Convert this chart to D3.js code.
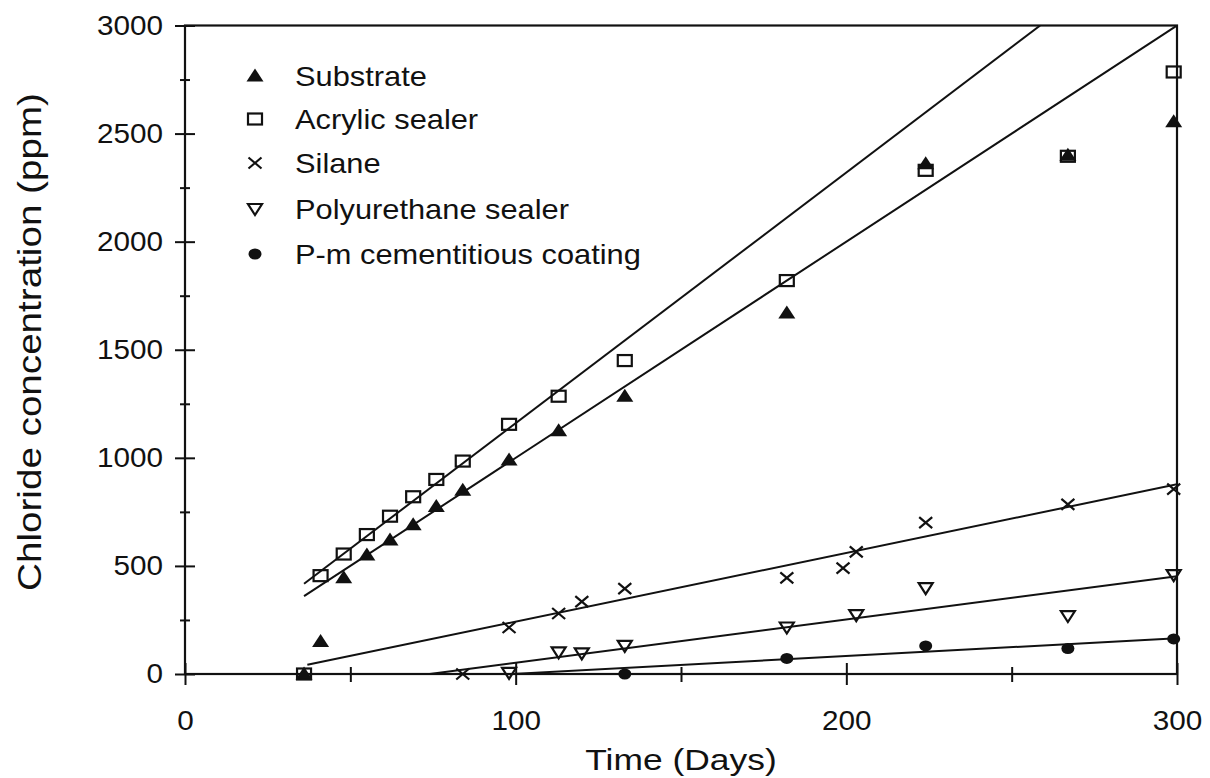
<!DOCTYPE html>
<html>
<head>
<meta charset="utf-8">
<script src="https://cdn.jsdelivr.net/npm/d3@7"></script>
<style>
  html, body { margin: 0; padding: 0; background: #fff; }
  svg { display: block; }
  text { font-family: "Liberation Sans", Arial, Helvetica, sans-serif; fill: #111; }
</style>
</head>
<body>
<svg id="chart" width="1210" height="778"></svg>
<script>
// ---------------- data ----------------
const seriesNames = ["Substrate", "Acrylic sealer", "Silane", "Polyurethane sealer", "P-m cementitious coating"];

const substrateDays = [36, 41, 48, 55, 62, 69, 76, 84, 98, 113, 133, 182, 224, 267, 299];
const substrateVals = [0, 150, 445, 550, 620, 690, 775, 850, 990, 1125, 1285, 1670, 2360, 2400, 2555];

const acrylicDays = [36, 41, 48, 55, 62, 69, 76, 84, 98, 113, 133, 182, 224, 267, 299];
const acrylicVals = [0, 455, 555, 645, 730, 820, 900, 985, 1155, 1285, 1450, 1820, 2330, 2395, 2785];

const silaneDays = [84, 98, 113, 120, 133, 182, 199, 203, 224, 267, 299];
const silaneVals = [0, 215, 280, 335, 395, 445, 490, 565, 700, 785, 855];

const polyDays = [98, 113, 120, 133, 182, 203, 224, 267, 299];
const polyVals = [5, 100, 95, 130, 215, 272, 397, 268, 457];

const pmDays = [133, 182, 224, 267, 299];
const pmVals = [0, 72, 130, 118, 162];

// fitted lines: concentration = slope * day + intercept, drawn from start to end day
const fitSlopes     = [10.0, 11.6, 3.175, 2.0, 0.82];
const fitIntercepts = [0, 0, -75, -148, -81];
const fitStartDays  = [36, 36, 37, 74, 99];
const fitEndDays    = [300, 300, 300, 300, 300];

const xTicksMajor = [0, 100, 200, 300];
const xTicksMinor = [50, 150, 250];
const yTicksMajor = [0, 500, 1000, 1500, 2000, 2500, 3000];
const yTicksMinor = [250, 750, 1250, 1750, 2250, 2750];

const xTitle = "Time (Days)";
const yTitle = "Chloride concentration (ppm)";

// ---------------- layout ----------------
const svg = d3.select("#chart");
const L = 185, R = 1177, T = 25.5, B = 674;
const x = d3.scaleLinear().domain([0, 300]).range([L, R]);
const y = d3.scaleLinear().domain([0, 3000]).range([B, T]);

const markerTypes = ["triUp", "rect", "cross", "triDown", "dot"];
const series = [
  { days: substrateDays, vals: substrateVals },
  { days: acrylicDays, vals: acrylicVals },
  { days: silaneDays, vals: silaneVals },
  { days: polyDays, vals: polyVals },
  { days: pmDays, vals: pmVals }
];

// widen glyphs horizontally (reference type is a wide grotesque)
function stretch(sel, k) {
  sel.each(function () {
    const len = this.getComputedTextLength();
    d3.select(this).attr("textLength", len * k).attr("lengthAdjust", "spacingAndGlyphs");
  });
}

function drawMarker(g, type) {
  if (type === "triUp") {
    g.append("path").attr("d", "M0,-7.5 L8.5,5.5 L-8.5,5.5 Z").attr("fill", "#111");
  } else if (type === "rect") {
    g.append("rect").attr("x", -7).attr("y", -5.5).attr("width", 14).attr("height", 11)
      .attr("fill", "none").attr("stroke", "#111").attr("stroke-width", 2.2);
  } else if (type === "cross") {
    g.append("path").attr("d", "M-6.5,-5.5 L6.5,5.5 M-6.5,5.5 L6.5,-5.5")
      .attr("stroke", "#111").attr("stroke-width", 2.2).attr("fill", "none");
  } else if (type === "triDown") {
    g.append("path").attr("d", "M-7,-5 L7,-5 L0,6 Z")
      .attr("fill", "none").attr("stroke", "#111").attr("stroke-width", 2.2).attr("stroke-linejoin", "miter");
  } else if (type === "dot") {
    g.append("ellipse").attr("rx", 6.5).attr("ry", 5.5).attr("fill", "#111");
  }
}

// ---------------- axes ----------------
const yAxisMajor = svg.append("g").attr("transform", `translate(${L},0)`)
  .call(d3.axisLeft(y).tickValues(yTicksMajor).tickSize(10).tickPadding(12).tickFormat(d3.format("d")));
yAxisMajor.selectAll(".tick line").attr("x1", -10).attr("x2", 10);
const yAxisMinor = svg.append("g").attr("transform", `translate(${L},0)`)
  .call(d3.axisLeft(y).tickValues(yTicksMinor).tickSize(5).tickFormat(""));
yAxisMinor.selectAll(".tick line").attr("x1", -5).attr("x2", 5);

const xAxisMajor = svg.append("g").attr("transform", `translate(0,${B})`)
  .call(d3.axisBottom(x).tickValues(xTicksMajor).tickSize(11).tickPadding(26).tickFormat(d3.format("d")));
xAxisMajor.selectAll(".tick line").attr("y1", -11).attr("y2", 11);
const xAxisMinor = svg.append("g").attr("transform", `translate(0,${B})`)
  .call(d3.axisBottom(x).tickValues(xTicksMinor).tickSize(7).tickFormat(""));
xAxisMinor.selectAll(".tick line").attr("y1", -7).attr("y2", 8);

svg.selectAll(".domain").remove();
svg.selectAll(".tick line").attr("stroke", "#111").attr("stroke-width", 2);
const tickTexts = svg.selectAll(".tick text").attr("font-size", 27).attr("fill", "#222")
  .attr("font-family", "'Liberation Sans', Arial, sans-serif");
stretch(tickTexts, 1.1);

// frame
svg.append("rect").attr("x", L).attr("y", T).attr("width", R - L).attr("height", B - T)
  .attr("fill", "none").attr("stroke", "#111").attr("stroke-width", 2.2);

// titles
const xt = svg.append("text").attr("x", (L + R) / 2).attr("y", 770).attr("text-anchor", "middle")
  .attr("font-size", 30).text(xTitle);
stretch(xt, 1.18);
const yt = svg.append("text").attr("transform", `translate(41,342) rotate(-90)`)
  .attr("text-anchor", "middle").attr("font-size", 33).text(yTitle);
stretch(yt, 1.17);

// ---------------- fit lines ----------------
const clip = svg.append("clipPath").attr("id", "plotclip");
clip.append("rect").attr("x", L).attr("y", T).attr("width", R - L).attr("height", B - T);
const lineGen = d3.line().x(d => x(d[0])).y(d => y(d[1]));
const fits = fitSlopes.map((s, i) => {
  const d0 = fitStartDays[i];
  let d1 = fitEndDays[i];
  const maxDay = (3000 - fitIntercepts[i]) / s;
  if (d1 > maxDay) d1 = maxDay;
  return [[d0, s * d0 + fitIntercepts[i]], [d1, s * d1 + fitIntercepts[i]]];
});
svg.append("g").attr("clip-path", "url(#plotclip)").selectAll("path").data(fits).join("path")
  .attr("d", lineGen).attr("fill", "none").attr("stroke", "#111").attr("stroke-width", 2);

// ---------------- points ----------------
series.forEach((s, i) => {
  s.days.forEach((d, j) => {
    const g = svg.append("g").attr("transform", `translate(${x(d)},${y(s.vals[j])})`);
    drawMarker(g, markerTypes[i]);
  });
});

// ---------------- legend ----------------
const legendY = [76, 119, 163, 209, 254];
seriesNames.forEach((name, i) => {
  const g = svg.append("g").attr("transform", `translate(255,${legendY[i]})`);
  drawMarker(g, markerTypes[i]);
  const t = svg.append("text").attr("x", 295).attr("y", legendY[i] + 10).attr("font-size", 28).text(name);
  stretch(t, 1.1);
});
</script>
</body>
</html>
